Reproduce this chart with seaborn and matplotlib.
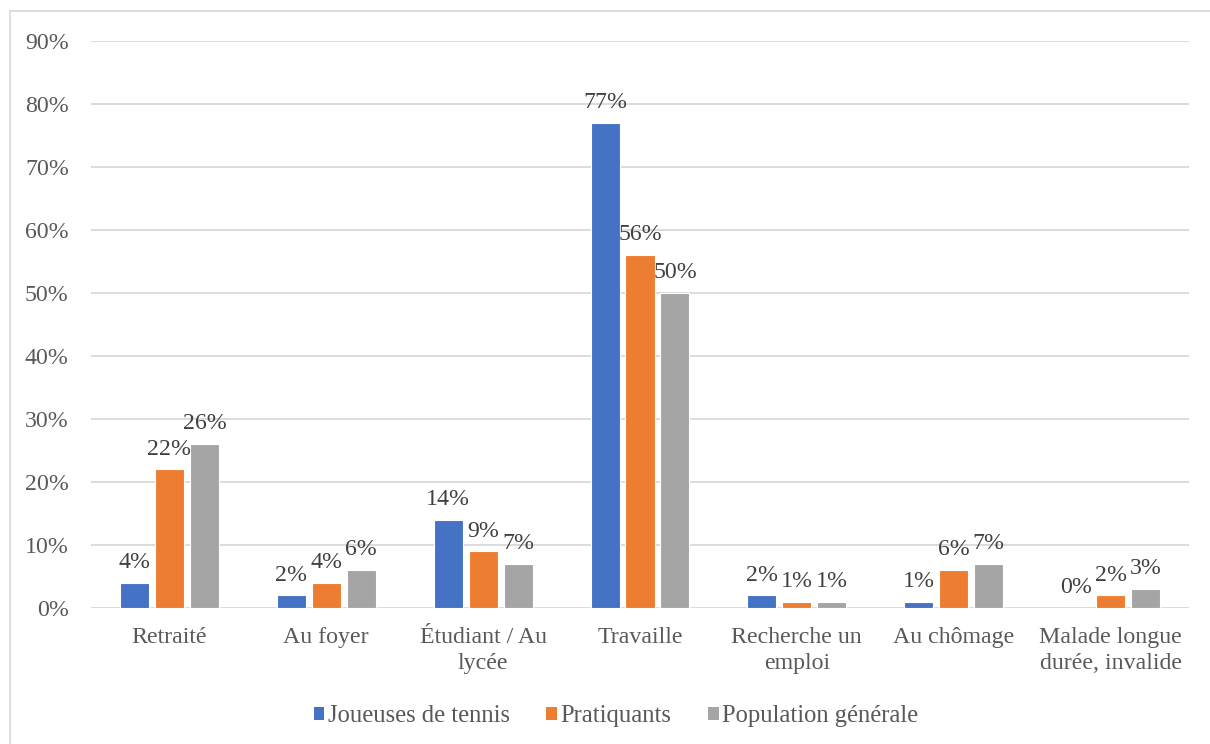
import matplotlib
matplotlib.use("Agg")
import matplotlib.pyplot as plt
import seaborn as sns
import pandas as pd
from matplotlib.patches import Rectangle
from matplotlib.ticker import PercentFormatter, MultipleLocator

categories = ["Retraité", "Au foyer", "Étudiant / Au\nlycée", "Travaille",
              "Recherche un\nemploi", "Au chômage", "Malade longue\ndurée, invalide"]
series = ["Joueuses de tennis", "Pratiquants", "Population générale"]
joueuses = [4, 2, 14, 77, 2, 1, 0]
pratiquants = [22, 4, 9, 56, 1, 6, 2]
population = [26, 6, 7, 50, 1, 7, 3]
colors = ["#4472C4", "#ED7D31", "#A5A5A5"]

rows = []
for name, vals in zip(series, [joueuses, pratiquants, population]):
    for c, v in zip(categories, vals):
        rows.append({"cat": c, "serie": name, "val": v / 100})
df = pd.DataFrame(rows)

sns.set_theme(style="white")
plt.rcParams["font.family"] = ["Liberation Serif", "DejaVu Serif"]

FS = 17.2

fig = plt.figure(figsize=(12.1, 7.44), dpi=100)
ax = fig.add_axes([91 / 1210, 1 - 608 / 744, (1189 - 91) / 1210, (608 - 41) / 744])

sns.barplot(data=df, x="cat", y="val", hue="serie", order=categories,
            hue_order=series, palette=colors, width=0.669, gap=0.17,
            edgecolor="white", linewidth=0.8, saturation=1, ax=ax, legend=True)

for cont, vals in zip(ax.containers, [joueuses, pratiquants, population]):
    ax.bar_label(cont, labels=[f"{v}%" for v in vals], padding=7,
                 fontsize=FS, color="#404040")

ax.set_ylim(0, 0.9)
ax.set_xlim(-0.5, len(categories) - 0.5)
ax.yaxis.set_major_locator(MultipleLocator(0.1))
ax.yaxis.set_major_formatter(PercentFormatter(1.0, decimals=0))
ax.grid(axis="y", color="#D9D9D9", linewidth=1.3)
ax.set_axisbelow(True)
for s in ax.spines.values():
    s.set_visible(False)
ax.tick_params(axis="y", length=0, pad=16, labelsize=FS, labelcolor="#595959")
ax.tick_params(axis="x", length=0, pad=14, labelsize=FS, labelcolor="#595959")
for t in ax.get_xticklabels():
    t.set_linespacing(1.3)
ax.set_xlabel("")
ax.set_ylabel("")

handles, labels = ax.get_legend_handles_labels()
ax.get_legend().remove()
leg = fig.legend(handles, labels, loc="center", bbox_to_anchor=(616 / 1210, 1 - 716 / 744),
                 ncol=3, frameon=False, fontsize=FS + 0.5, handlelength=0.42, handleheight=0.42,
                 handletextpad=0.15, columnspacing=1.5, labelcolor="#595959")
for h in leg.legend_handles:
    h.set_edgecolor("none")

fig.patches.append(Rectangle((9.5 / 1210, -0.1), 1.2, 0.1 + 1 - 11.5 / 744,
                             transform=fig.transFigure, fill=False,
                             edgecolor="#D9D9D9", linewidth=1.2, zorder=-1))

fig.savefig("out.png", dpi=100)
